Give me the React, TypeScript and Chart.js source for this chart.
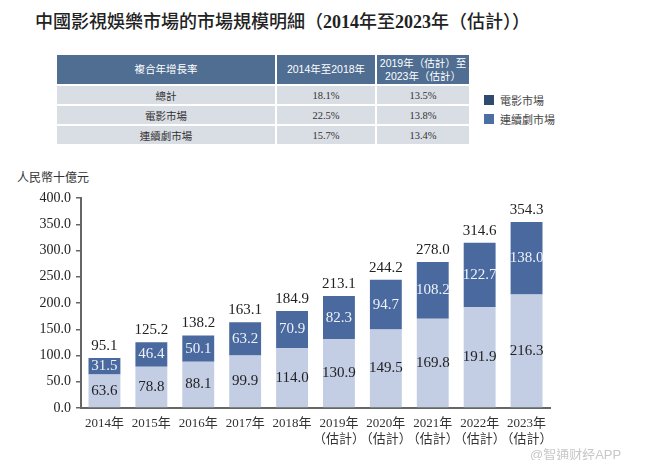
import React, { useEffect, useRef } from "react";
import { Chart, registerables } from "chart.js";

Chart.register(...registerables);

const categories: (string | string[])[] = [
  "2014年", "2015年", "2016年", "2017年", "2018年",
  ["2019年", "（估計）"], ["2020年", "（估計）"], ["2021年", "（估計）"],
  ["2022年", "（估計）"], ["2023年", "（估計）"],
];
const seriesMarket = [63.6, 78.8, 88.1, 99.9, 114.0, 130.9, 149.5, 169.8, 191.9, 216.3];
const filmMarket = [31.5, 46.4, 50.1, 63.2, 70.9, 82.3, 94.7, 108.2, 122.7, 138.0];
const totals = [95.1, 125.2, 138.2, 163.1, 184.9, 213.1, 244.2, 278.0, 314.6, 354.3];

const tableHeader = ["複合年增長率", "2014年至2018年", "2019年（估計）至\n2023年（估計）"];
const tableRows = [
  ["總計", "18.1%", "13.5%"],
  ["電影市場", "22.5%", "13.8%"],
  ["連續劇市場", "15.7%", "13.4%"],
];
const legendItems = [
  { label: "電影市場", color: "#2e4a6e" },
  { label: "連續劇市場", color: "#4a6fa3" },
];

const SERIF = "'Liberation Serif', 'DejaVu Serif', 'Noto Sans CJK TC', serif";
const SANS = "'Liberation Sans', Arial, 'Noto Sans CJK TC', sans-serif";

const labelPlugin = {
  id: "barLabels",
  afterDatasetsDraw(chart: any) {
    const ctx = chart.ctx;
    ctx.save();
    ctx.font = `15px ${SERIF}`;
    ctx.textAlign = "center";
    ctx.textBaseline = "middle";
    chart.data.datasets.forEach((ds: any, di: number) => {
      const meta = chart.getDatasetMeta(di);
      meta.data.forEach((bar: any, i: number) => {
        const v = ds.data[i];
        const cy = (bar.y + bar.base) / 2;
        ctx.fillStyle = di === 0 ? "#222222" : "#eef2f8";
        ctx.fillText(v.toFixed(1), bar.x, cy);
      });
    });
    const yScale = chart.scales.y;
    const meta0 = chart.getDatasetMeta(0);
    ctx.fillStyle = "#222222";
    ctx.textBaseline = "alphabetic";
    totals.forEach((t, i) => {
      const x = meta0.data[i].x;
      const y = yScale.getPixelForValue(t);
      ctx.fillText(t.toFixed(1), x, y - 8);
    });
    ctx.restore();
  },
};

export default function App() {
  const ref = useRef<HTMLCanvasElement>(null);
  useEffect(() => {
    if (!ref.current) return;
    const chart = new Chart(ref.current, {
      type: "bar",
      data: {
        labels: categories,
        datasets: [
          { label: "連續劇市場", data: seriesMarket, backgroundColor: "#c3cee4", stack: "s" },
          { label: "電影市場", data: filmMarket, backgroundColor: "#4a6a9f", stack: "s" },
        ],
      },
      plugins: [labelPlugin],
      options: {
        animation: false,
        responsive: false,
        maintainAspectRatio: false,
        layout: { padding: { left: 0, right: 100, top: 28, bottom: 0 } },
        plugins: { legend: { display: false }, tooltip: { enabled: false } },
        datasets: { bar: { barPercentage: 0.68, categoryPercentage: 1 } },
        scales: {
          x: {
            stacked: true,
            grid: { display: false, drawTicks: false },
            border: { color: "#666", width: 2 },
            ticks: { color: "#333", font: { family: SERIF, size: 13 }, padding: 8, maxRotation: 0, autoSkip: false },
            afterFit: (s: any) => { s.height = 60; },
          },
          y: {
            stacked: true,
            min: 0,
            max: 400,
            grid: { drawOnChartArea: false, drawTicks: true, tickLength: 5, color: "#666", lineWidth: 1.5 },
            border: { color: "#666", width: 2 },
            ticks: {
              stepSize: 50,
              color: "#222",
              font: { family: SERIF, size: 14 },
              padding: 5,
              callback: (v: any) => Number(v).toFixed(1),
            },
            afterFit: (s: any) => { s.width = 81; },
          },
        },
      },
    });
    return () => chart.destroy();
  }, []);

  return (
    <div style={{ position: "relative", width: 650, height: 468, margin: -8, background: "#fff", overflow: "hidden" }}>
      <div style={{ position: "absolute", left: 35, top: 7, fontSize: 18, fontWeight: 500, color: "#222", fontFamily: "'Noto Sans CJK TC', sans-serif", whiteSpace: "nowrap" }}>
        中國影視娛樂市場的市場規模明細（<span style={{ fontFamily: SERIF, fontWeight: 700 }}>2014</span>年至<span style={{ fontFamily: SERIF, fontWeight: 700 }}>2023</span>年（估計））
      </div>
      <table style={{ position: "absolute", left: 55, top: 53, borderCollapse: "separate", borderSpacing: 2, fontSize: 10.5 }}>
        <thead>
          <tr>
            {tableHeader.map((h, i) => (
              <th key={i} style={{ width: [218, 98, 92][i], height: 29, padding: 0, background: "#4f6e92", color: "#fff", fontWeight: 400, fontFamily: SANS, whiteSpace: "pre-line", lineHeight: "13px" }}>{h}</th>
            ))}
          </tr>
        </thead>
        <tbody>
          {tableRows.map((r, ri) => (
            <tr key={ri}>
              {r.map((c, ci) => (
                <td key={ci} style={{ height: 18, padding: 0, background: "#d9dde4", color: "#333", textAlign: "center", fontFamily: SERIF }}>{c}</td>
              ))}
            </tr>
          ))}
        </tbody>
      </table>
      <div style={{ position: "absolute", left: 484, top: 90, fontFamily: SERIF, fontSize: 11, color: "#444" }}>
        {legendItems.map((l, i) => (
          <div key={i} style={{ display: "flex", alignItems: "center", height: 19 }}>
            <span style={{ display: "inline-block", width: 10, height: 10, background: l.color, marginRight: 6 }} />
            {l.label}
          </div>
        ))}
      </div>
      <div style={{ position: "absolute", left: 17, top: 168, fontSize: 12, color: "#333", fontFamily: SERIF }}>人民幣十億元</div>
      <canvas ref={ref} width={650} height={298} style={{ position: "absolute", left: 0, top: 170, width: 650, height: 298 }} />
      <div style={{ position: "absolute", left: 530, top: 444, fontSize: 13, color: "#c8c8c8", fontFamily: SANS, whiteSpace: "nowrap" }}>@智通财经APP</div>
    </div>
  );
}
